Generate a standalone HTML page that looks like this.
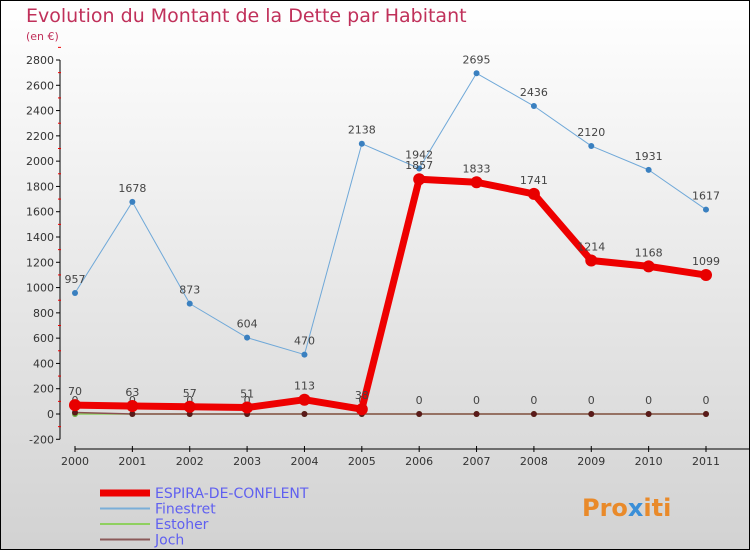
<!DOCTYPE html>
<html><head><meta charset="utf-8"><style>
body{margin:0}
#wrap{position:relative;width:750px;height:550px;overflow:hidden;font-family:"DejaVu Sans","Liberation Sans",sans-serif}
</style></head><body>
<div id="wrap">
<svg id="svg" width="750" height="550" xmlns="http://www.w3.org/2000/svg">
<defs><linearGradient id="bg" x1="0" y1="0" x2="0" y2="1"><stop offset="0" stop-color="#ffffff"/><stop offset="1" stop-color="#d2d2d2"/></linearGradient></defs>
<rect x="0.5" y="0.5" width="749" height="549" fill="url(#bg)" stroke="#000"/>
<text x="26" y="22" font-size="19" fill="#c0305a">Evolution du Montant de la Dette par Habitant</text>
<text x="26" y="40" font-size="11" fill="#c0305a">(en €)</text>
<g id="axes"></g><g id="series"></g><g id="legend"></g>
<text x="582" y="516" font-size="24" font-weight="bold" fill="#e98a2a">Pro<tspan fill="#3a8fd8">x</tspan>iti</text>
</svg></div>
<script>
const years=[2000,2001,2002,2003,2004,2005,2006,2007,2008,2009,2010,2011];
const espira=[70,63,57,51,113,38,1857,1833,1741,1214,1168,1099];
const finestret=[957,1678,873,604,470,2138,1942,2695,2436,2120,1931,1617];
const estoher=[0,0,0,0,0,0,0,0,0,0,0,0];
const joch=[12,0,0,0,0,0,0,0,0,0,0,0];
const yTicks=[-200,0,200,400,600,800,1000,1200,1400,1600,1800,2000,2200,2400,2600,2800];
const NS="http://www.w3.org/2000/svg";
const x=i=>75+i*(706-75)/11;
const y=v=>414-v*(414-60)/2800;
function mk(t,a,p){const e=document.createElementNS(NS,t);for(const k in a)e.setAttribute(k,a[k]);p.appendChild(e);return e;}
const ax=document.getElementById('axes'),se=document.getElementById('series'),lg=document.getElementById('legend');
let l=mk('line',{x1:60,y1:y(2800),x2:60,y2:y(-200),stroke:'#000'},ax);


yTicks.forEach(v=>{
 mk('line',{x1:56,x2:60,y1:y(v),y2:y(v),stroke:'#000'},ax);
 mk('line',{x1:58,x2:61,y1:y(v+100),y2:y(v+100),stroke:'#e00'},ax);
 const t=mk('text',{x:54,y:y(v)+4,'font-size':11,'text-anchor':'end',fill:'#333'},ax);t.textContent=v;
 
 
});
l=mk('line',{x1:75,y1:449,x2:750,y2:449,stroke:'#000'},ax);


years.forEach((yr,i)=>{
 mk('line',{x1:x(i),x2:x(i),y1:446,y2:452,stroke:'#000'},ax);
 const t=mk('text',{x:x(i),y:465,'font-size':11,'text-anchor':'middle',fill:'#333'},ax);t.textContent=yr;
 
 
});
function series(vals,color,w,r,dot,name,labels){
 const g=mk('g',{},se);
 
 
 mk('polyline',{points:vals.map((v,i)=>x(i)+','+y(v)).join(' '),fill:'none',stroke:color,'stroke-width':w,'stroke-linejoin':'round'},g);
 vals.forEach((v,i)=>{
  const c=mk('circle',{cx:x(i),cy:y(v),r:r,fill:dot},g);
  
  
  if(labels){const t=mk('text',{x:x(i),y:y(v)-10,'font-size':11,'text-anchor':'middle',fill:'#444'},g);t.textContent=v;}
 });
}
series(estoher,'#8fd060',1.5,3,'#6ab040','estoher-series',true);
series(joch,'#8b5050',1.5,3,'#5a1a1a','joch-series',false);
series(finestret,'#6fa8d8',1,3,'#3a80c0','finestret-series',true);
series(espira,'#ee0000',7,6,'#e80000','espira-series',true);
const names=['ESPIRA-DE-CONFLENT','Finestret','Estoher','Joch'],cols=['#ee0000','#7aaed8','#8fd060','#8b5a5a'],ws=[7,2,2,2];
names.forEach((n,i)=>{
 const yy=493+i*15.5;
 mk('line',{x1:100,x2:150,y1:yy,y2:yy,stroke:cols[i],'stroke-width':ws[i]},lg);
 const t=mk('text',{x:155,y:yy+5,'font-size':14,fill:'#6060f0'},lg);t.textContent=n;
 
 
});
</script>
</body></html>
